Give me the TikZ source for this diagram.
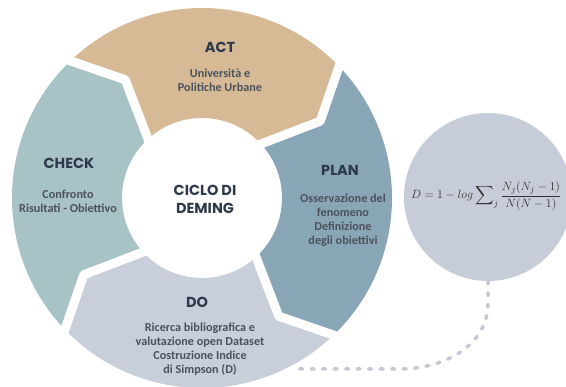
\documentclass[tikz,border=0pt]{standalone}
\usepackage{fontspec}
\setmainfont{Carlito}
\newfontfamily\titlefont{Poppins}
\definecolor{actcol}{HTML}{D6BA96}
\definecolor{plancol}{HTML}{89A6B6}
\definecolor{docol}{HTML}{C8CFDB}
\definecolor{checkcol}{HTML}{A8C3C6}
\definecolor{formcol}{HTML}{C6CDD9}
\definecolor{dashcol}{HTML}{C3C8D4}
\definecolor{titlecol}{HTML}{2E3A4B}
\definecolor{bodycol}{HTML}{4B525C}
\newcommand{\bigsum}{\mathop{\vcenter{\hbox{\scalebox{1.3}{$\displaystyle\sum$}}}}\nolimits}
\begin{document}
\begin{tikzpicture}[x=1pt, y=1pt, line join=round, line cap=round,
    title/.style={font=\titlefont\bfseries\fontsize{14.5}{17}\selectfont, text=titlecol},
    body/.style={font=\bfseries\fontsize{12.2}{14}\selectfont, text=bodycol, align=center},
    centre/.style={font=\titlefont\bfseries\fontsize{14.5}{18}\selectfont, text=titlecol, align=center},
    gap/.style={white, line width=9pt},
    link/.style={dashcol, line width=3.5pt, dash pattern=on 3pt off 8.5pt}]
    \clip (0,0) rectangle (566,387);
    \def\R{190} \def\r{80} \def\m{141}
    \path (202,189) coordinate(O);
    % ring of four arrow segments
    \begin{scope}[shift={(O)}]
        \foreach \a/\c in {135/actcol, 45/plancol, -45/docol, -135/checkcol}
            \fill[\c] ({\a}:\R) arc[start angle=\a, end angle=\a-90, radius=\R]
                -- ({\a-102}:\m) -- ({\a-90}:\r)
                arc[start angle=\a-90, end angle=\a, radius=\r]
                -- ({\a-12}:\m) -- cycle;
        \foreach \a in {135,45,-45,-135}
            \draw[gap] ({\a}:{\R+8}) -- ({\a-12}:\m) -- ({\a}:{\r-8});
    \end{scope}
    % labels
    \node[centre] (ciclo) at (205,188) {CICLO DI\\DEMING};
    \node[title] (act) at (220,340) {ACT};
    \node[body] (actb) at (220,307) {Università e\\Politiche Urbane};
    \node[title] (check) at (69,224) {CHECK};
    \node[body] (checkb) at (68,186) {Confronto\\Risultati - Obiettivo};
    \node[title] (plan) at (340,217) {PLAN};
    \node[body] (planb) at (343,167) {Osservazione del\\fenomeno\\Definizione\\degli obiettivi};
    \node[title] (do) at (197,85) {DO};
    \node[body] (dob) at (200,38) {Ricerca bibliografica e\\valutazione open Dataset\\Costruzione Indice\\di Simpson (D)};
    % formula bubble
    \node[circle, fill=formcol, minimum size=168pt, inner sep=0pt] (form) at (488,190) {};
    \node[anchor=base west, text=black!80, inner sep=0pt, font=\fontsize{13}{15}\selectfont] (eq) at (411,188)
        {$\displaystyle D = 1 - log \bigsum_j
          {\medmuskip=2mu \frac{N_j(N_j - 1)}{N(N - 1)}}$};
    \coordinate (bend) at (400,18);
    \coordinate (doend) at (297,18);
    \draw[link] (form.south) -- ++(0,-22) to[out=-90, in=0] (bend) -- (doend);
\end{tikzpicture}
\end{document}
